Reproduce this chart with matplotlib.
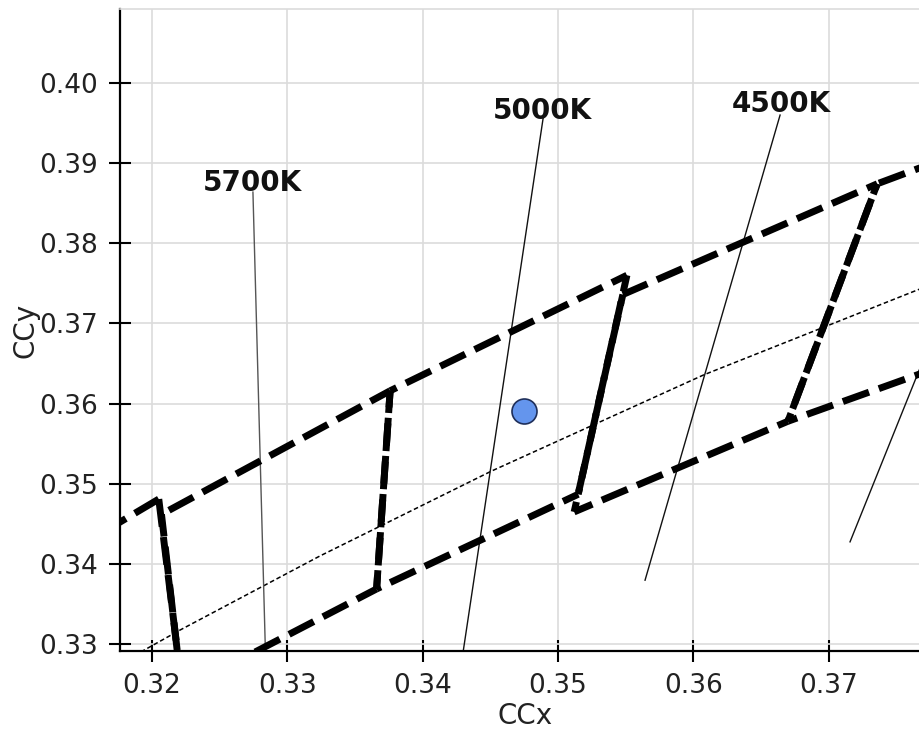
import matplotlib
matplotlib.use("Agg")
import matplotlib.pyplot as plt

plt.rcParams['font.family'] = ['DejaVu Sans']

# ANSI C78.377 chromaticity quadrangles (CIE 1931 x, y corners)
quad_names = ["6500K", "5700K", "5000K", "4500K", "4000K"]
quad_x = [
    [0.3205, 0.3028, 0.3068, 0.3221],
    [0.3376, 0.3207, 0.3222, 0.3366],
    [0.3551, 0.3376, 0.3366, 0.3515],
    [0.3736, 0.3548, 0.3512, 0.3670],
    [0.4006, 0.3736, 0.3670, 0.3898],
]
quad_y = [
    [0.3481, 0.3304, 0.3113, 0.3261],
    [0.3616, 0.3462, 0.3243, 0.3369],
    [0.3760, 0.3616, 0.3369, 0.3487],
    [0.3874, 0.3736, 0.3465, 0.3578],
    [0.4044, 0.3874, 0.3578, 0.3716],
]

# Planckian locus points
locus_x = [0.3135, 0.3221, 0.3324, 0.3451, 0.3608, 0.3805]
locus_y = [0.3237, 0.3318, 0.3410, 0.3516, 0.3636, 0.3768]

# Isotemperature lines (top end, bottom end)
iso_names = ["5700K", "5000K", "4500K", "4000K"]
iso_x_top = [0.32746, 0.34892, 0.36642, 0.3843]
iso_y_top = [0.38637, 0.39572, 0.39597, 0.3960]
iso_x_bot = [0.32840, 0.34290, 0.35644, 0.37159]
iso_y_bot = [0.32800, 0.32800, 0.33799, 0.34277]
iso_colors = ["#555555", "#111111", "#111111", "#111111"]

# Labels of the isotemperature lines inside the plotted range
label_text = ["5700K", "5000K", "4500K"]
label_x = [0.32743, 0.34882, 0.36649]
label_y = [0.38749, 0.39647, 0.39738]

# Measured sample point
sample_x = [0.34749]
sample_y = [0.35907]

x_ticks = [0.32, 0.33, 0.34, 0.35, 0.36, 0.37]
y_ticks = [0.33, 0.34, 0.35, 0.36, 0.37, 0.38, 0.39, 0.40]

W, H = 919, 729
fig = plt.figure(figsize=(W / 100, H / 100), dpi=100)
ax = fig.add_axes([120 / W, 78 / H, 810 / W, 642 / H])
ax.set_xlim(0.317635, 0.37750)
ax.set_ylim(0.329165, 0.409190)

ax.set_xticks(x_ticks)
ax.set_yticks(y_ticks)
ax.set_xticklabels([f"{v:.2f}" for v in x_ticks])
ax.set_yticklabels([f"{v:.2f}" for v in y_ticks])
ax.tick_params(direction='inout', length=16, width=1.5, color='black',
               labelsize=19, labelcolor='#222222', pad=8)
ax.grid(True, color='#dcdcdc', linewidth=1.2, zorder=0)
ax.set_axisbelow(True)

for s in ['left', 'bottom']:
    ax.spines[s].set_linewidth(1.6)
    ax.spines[s].set_color('black')
ax.spines['top'].set_color('#dcdcdc')
ax.spines['top'].set_linewidth(1.2)
ax.spines['right'].set_visible(False)

ax.set_xlabel("CCx", fontsize=20, color='#222222', labelpad=2)
ax.set_ylabel("CCy", fontsize=20, color='#222222', labelpad=0)

# Planckian locus
ax.plot(locus_x, locus_y, color='black', linewidth=1.1,
        linestyle=(0, (3, 1.8)), zorder=2)

# Isotemperature lines with labels
for xt, yt, xb, yb, c in zip(iso_x_top, iso_y_top, iso_x_bot, iso_y_bot,
                             iso_colors):
    ax.plot([xt, xb], [yt, yb], color=c, linewidth=1.0, zorder=2)
for n, lx, ly in zip(label_text, label_x, label_y):
    ax.text(lx, ly, n, fontsize=20, fontweight='bold', color='#111111',
            ha='center', va='center', zorder=4)

# Quadrangles: each edge drawn from its upper vertex, dash phase per quad
for qi, (qx, qy) in enumerate(zip(quad_x, quad_y)):
    n = len(qx)
    for k in range(n):
        p = (qx[k], qy[k])
        q = (qx[(k + 1) % n], qy[(k + 1) % n])
        if q[1] > p[1]:
            p, q = q, p
        ax.plot([p[0], q[0]], [p[1], q[1]], color='black', linewidth=5,
                linestyle=(0.8 * qi, (4, 1.5)), dash_capstyle='butt',
                solid_capstyle='butt', zorder=3)

# Sample point
ax.plot(sample_x, sample_y, marker='o', markersize=18, linestyle='none',
        markerfacecolor='#6495ED', markeredgecolor='#1f2f5a',
        markeredgewidth=1.2, zorder=5)

fig.savefig("out.png", dpi=100)
